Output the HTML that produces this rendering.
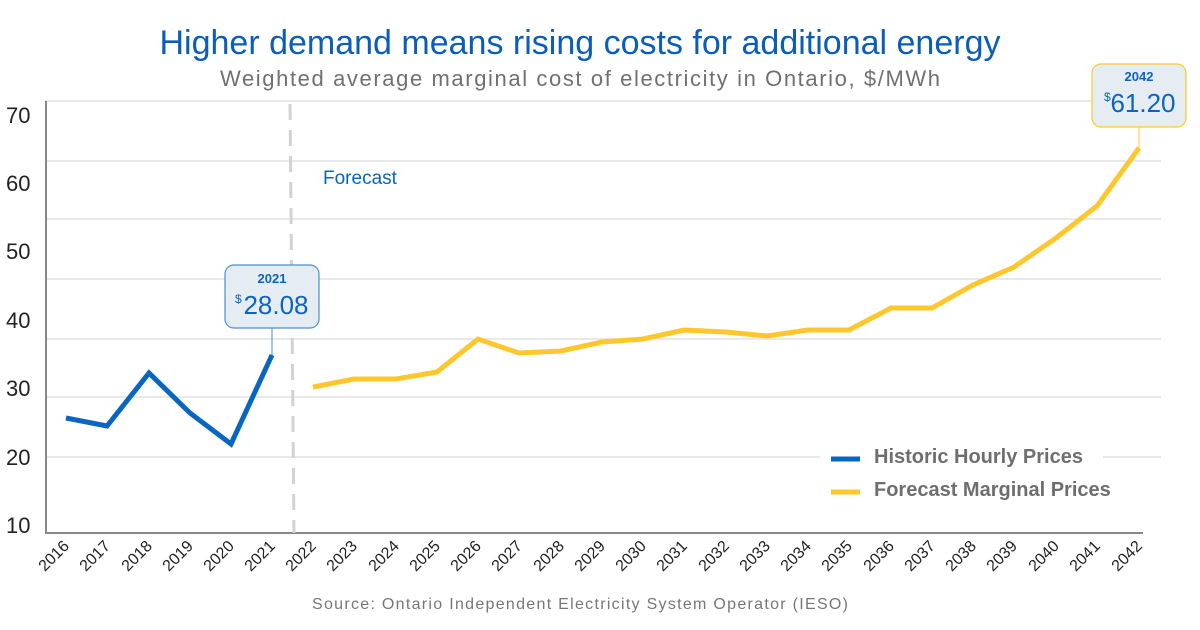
<!DOCTYPE html>
<html><head><meta charset="utf-8"><style>
body{margin:0;background:#fff;}
svg text{font-family:"Liberation Sans",sans-serif;}
</style></head><body>
<svg width="1200" height="625" viewBox="0 0 1200 625" xmlns="http://www.w3.org/2000/svg">
<rect width="1200" height="625" fill="#fff"/>
<text x="580" y="54" text-anchor="middle" font-size="34" fill="#0a5db8">Higher demand means rising costs for additional energy</text>
<text x="580" y="86" text-anchor="middle" font-size="22" fill="#707070" textLength="720">Weighted average marginal cost of electricity in Ontario, $/MWh</text>
<g stroke="#e2e2e2" stroke-width="1.5">
<line x1="46" y1="101" x2="1161" y2="101"/>
<line x1="46" y1="161" x2="1161" y2="161"/>
<line x1="46" y1="219" x2="1161" y2="219"/>
<line x1="46" y1="279" x2="1161" y2="279"/>
<line x1="46" y1="339" x2="1161" y2="339"/>
<line x1="46" y1="397" x2="1161" y2="397"/>
<line x1="46" y1="457" x2="820" y2="457"/>
<line x1="1103" y1="457" x2="1161" y2="457"/>
</g>
<line x1="46" y1="101" x2="46" y2="534" stroke="#888" stroke-width="2"/>
<line x1="46" y1="533" x2="1143" y2="533" stroke="#888" stroke-width="2"/>
<line x1="290" y1="104" x2="294" y2="533" stroke="#d2d2d2" stroke-width="3" stroke-dasharray="16,10"/>
<g font-size="22" fill="#222" text-anchor="start">
<text x="6" y="123">70</text><text x="6" y="191">60</text><text x="6" y="259">50</text>
<text x="6" y="328">40</text><text x="6" y="396">30</text><text x="6" y="465">20</text><text x="6" y="533">10</text>
</g>
<text x="323" y="184" font-size="19" fill="#0a64c0">Forecast</text>
<polyline fill="none" stroke="#0866c2" stroke-width="5" points="66,418 107,426 149,373 190,413 231,444 272,355"/>
<polyline fill="none" stroke="#ffc72c" stroke-width="5" points="313,387 354,379 396,379 437,372 478,339 519,353 561,351 602,342 643,339 684,330 726,332 767,336 808,330 849,330 891,308 932,308 973,285 1014,267 1056,238 1097,206 1139,148"/>
<line x1="272" y1="328" x2="272" y2="355" stroke="#4a90d0" stroke-width="1"/>
<rect x="225" y="265" width="94" height="63" rx="9" fill="#e6edf2" stroke="#4a90d0" stroke-width="1.2"/>
<text x="272" y="283" text-anchor="middle" font-size="13" font-weight="bold" fill="#0a64c0">2021</text>
<text x="235" y="303" font-size="12" fill="#0a64c0">$</text>
<text x="276" y="314" text-anchor="middle" font-size="26" fill="#0a64c0">28.08</text>
<line x1="1139" y1="127" x2="1139" y2="148" stroke="#ffc72c" stroke-width="1"/>
<rect x="1092" y="64" width="94" height="63" rx="9" fill="#e6edf2" stroke="#ffc72c" stroke-width="1.2"/>
<text x="1139" y="81" text-anchor="middle" font-size="13" font-weight="bold" fill="#0a64c0">2042</text>
<text x="1104" y="101" font-size="12" fill="#0a64c0">$</text>
<text x="1143" y="112" text-anchor="middle" font-size="26" fill="#0a64c0">61.20</text>
<line x1="831" y1="459" x2="860" y2="459" stroke="#0866c2" stroke-width="5"/>
<line x1="831" y1="492" x2="860" y2="492" stroke="#ffc72c" stroke-width="5"/>
<text x="874" y="463" font-size="20" font-weight="bold" fill="#6e6e6e">Historic Hourly Prices</text>
<text x="874" y="496" font-size="20" font-weight="bold" fill="#6e6e6e">Forecast Marginal Prices</text>
<g font-size="16" fill="#222" text-anchor="end">
<text transform="translate(70,547) rotate(-45)">2016</text>
<text transform="translate(111,547) rotate(-45)">2017</text>
<text transform="translate(153,547) rotate(-45)">2018</text>
<text transform="translate(194,547) rotate(-45)">2019</text>
<text transform="translate(235,547) rotate(-45)">2020</text>
<text transform="translate(276,547) rotate(-45)">2021</text>
<text transform="translate(317,547) rotate(-45)">2022</text>
<text transform="translate(358,547) rotate(-45)">2023</text>
<text transform="translate(400,547) rotate(-45)">2024</text>
<text transform="translate(441,547) rotate(-45)">2025</text>
<text transform="translate(482,547) rotate(-45)">2026</text>
<text transform="translate(523,547) rotate(-45)">2027</text>
<text transform="translate(565,547) rotate(-45)">2028</text>
<text transform="translate(606,547) rotate(-45)">2029</text>
<text transform="translate(647,547) rotate(-45)">2030</text>
<text transform="translate(688,547) rotate(-45)">2031</text>
<text transform="translate(730,547) rotate(-45)">2032</text>
<text transform="translate(771,547) rotate(-45)">2033</text>
<text transform="translate(812,547) rotate(-45)">2034</text>
<text transform="translate(853,547) rotate(-45)">2035</text>
<text transform="translate(895,547) rotate(-45)">2036</text>
<text transform="translate(936,547) rotate(-45)">2037</text>
<text transform="translate(977,547) rotate(-45)">2038</text>
<text transform="translate(1018,547) rotate(-45)">2039</text>
<text transform="translate(1060,547) rotate(-45)">2040</text>
<text transform="translate(1101,547) rotate(-45)">2041</text>
<text transform="translate(1143,547) rotate(-45)">2042</text>
</g>
<text x="580" y="609" text-anchor="middle" font-size="16" fill="#777" textLength="536">Source: Ontario Independent Electricity System Operator (IESO)</text>
</svg>
</body></html>
